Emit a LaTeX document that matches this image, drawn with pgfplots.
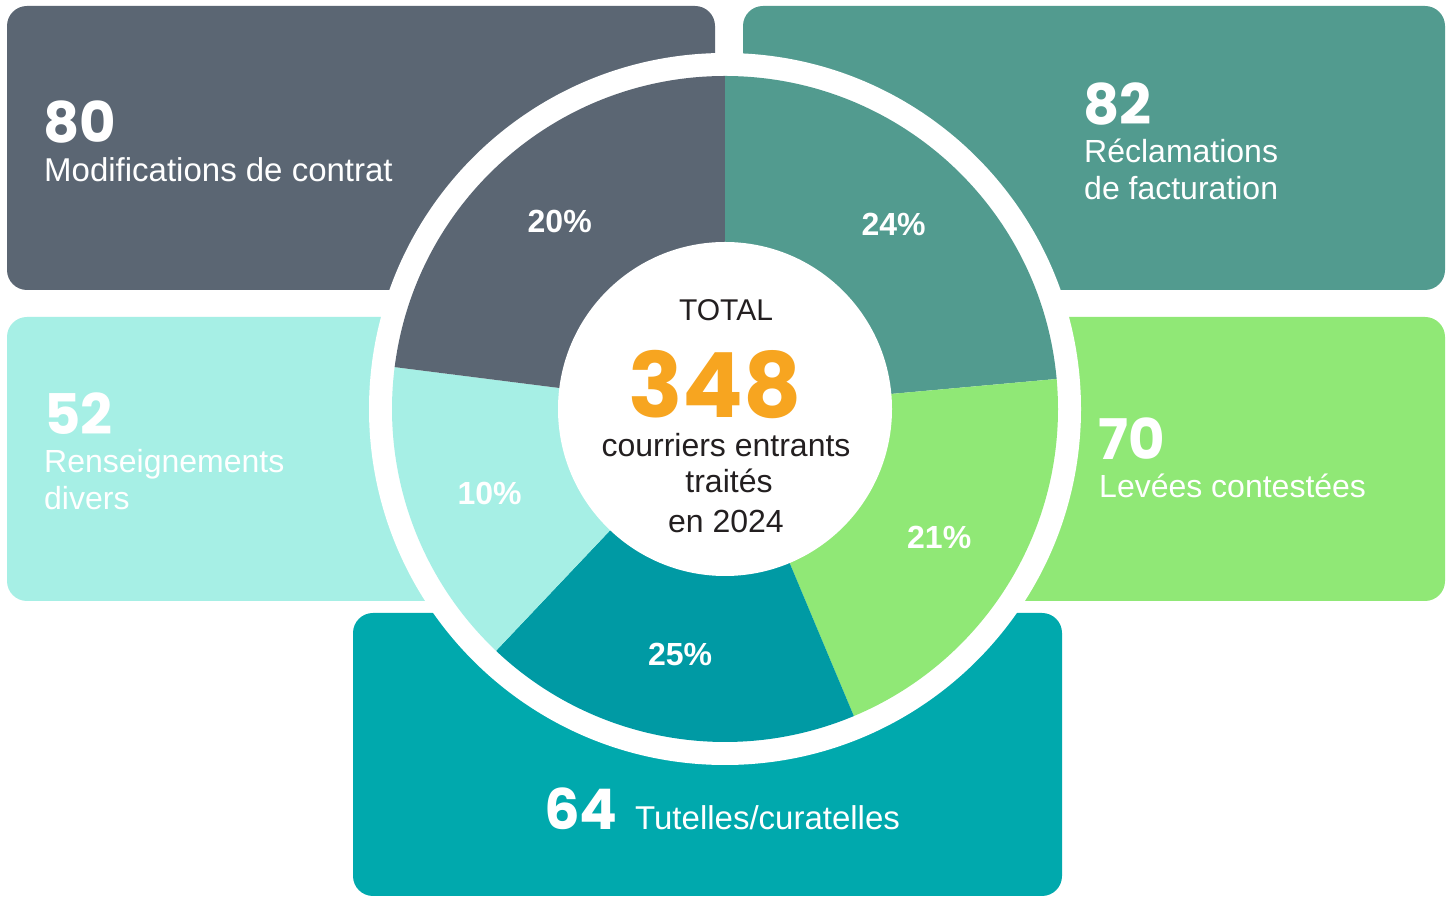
\documentclass[border=0pt]{standalone}
\usepackage{pgfplots}
\pgfplotsset{compat=1.18}
\usepackage{pgfplotstable}
\usepackage{fontspec}
\setmainfont{Liberation Sans}
\newfontfamily\numfont{Poppins}
\definecolor{cModif}{HTML}{5B6673}
\definecolor{cReclam}{HTML}{529B8F}
\definecolor{cLevees}{HTML}{90E876}
\definecolor{cRens}{HTML}{A6EFE5}
\definecolor{cTut}{HTML}{00A9AD}
\definecolor{cTutSlice}{HTML}{009AA4}
\definecolor{cOrange}{HTML}{F7A520}
\definecolor{cDark}{HTML}{231F20}
\newcommand\numf[1]{\numfont\bfseries\fontsize{#1bp}{#1bp}\selectfont}
\newcommand\txtf[1]{\fontsize{#1bp}{#1bp}\selectfont}

\pgfplotstableread{
cat value pct color
Reclamations 82 24 cReclam
Levees 70 21 cLevees
Tutelles 64 25 cTutSlice
Renseignements 52 10 cRens
Modifications 80 20 cModif
}\slices

\pgfmathsetmacro\total{0}%
\pgfplotsforeachungrouped \i in {0,...,4}{%
  \pgfplotstablegetelem{\i}{value}\of{\slices}%
  \pgfmathsetmacro\total{\total+\pgfplotsretval}%
}%
\def\startang{90}%
\pgfplotsforeachungrouped \i in {0,...,4}{%
  \pgfplotstablegetelem{\i}{value}\of{\slices}%
  \pgfmathsetmacro\endang{\startang-\pgfplotsretval/\total*360}%
  \pgfmathsetmacro\midang{(\startang+\endang)/2}%
  \expandafter\xdef\csname sa\i\endcsname{\startang}%
  \expandafter\xdef\csname ea\i\endcsname{\endang}%
  \expandafter\xdef\csname ma\i\endcsname{\midang}%
  \pgfplotstablegetelem{\i}{pct}\of{\slices}%
  \expandafter\xdef\csname pc\i\endcsname{\pgfplotsretval}%
  \pgfplotstablegetelem{\i}{color}\of{\slices}%
  \expandafter\xdef\csname co\i\endcsname{\pgfplotsretval}%
  \global\let\startang\endang
}%

\begin{document}
\begin{tikzpicture}
\begin{axis}[x=1bp, y=1bp, xmin=0, xmax=1448, ymin=0, ymax=897,
  hide axis, clip=false, scale only axis]
\fill[white] (axis cs:0,0) rectangle (axis cs:1448,897);
% boxes
\fill[cModif, rounded corners=20bp] (axis cs:7,607) rectangle (axis cs:715,891);
\fill[cReclam, rounded corners=20bp] (axis cs:743,607) rectangle (axis cs:1445,891);
\fill[cLevees, rounded corners=20bp] (axis cs:760,296) rectangle (axis cs:1445,580);
\fill[cRens, rounded corners=20bp] (axis cs:7,296) rectangle (axis cs:700,580);
\fill[cTut, rounded corners=20bp] (axis cs:353,1) rectangle (axis cs:1062,284);
% white ring
\fill[white] (axis cs:725,488) circle[radius=356bp];
% slices
\pgfplotsinvokeforeach{0,...,4}{
  \fill[\csname co#1\endcsname] (axis cs:725,488) -- +(\csname sa#1\endcsname:333bp)
    arc[start angle=\csname sa#1\endcsname, end angle=\csname ea#1\endcsname, radius=333bp] -- cycle;
}
\fill[white] (axis cs:725,488) circle[radius=167bp];
% percentage labels
\pgfplotsinvokeforeach{0,...,4}{
  \path (axis cs:725,488) ++(\csname ma#1\endcsname:250bp)
    node[inner sep=0, text=white, font=\bfseries\txtf{32}] {\csname pc#1\endcsname\%};
}
% centre text
\node[anchor=base, inner sep=0, text=cDark, font=\txtf{30}] at (axis cs:726,576) {TOTAL};
\node[anchor=base, inner sep=0, text=cOrange, font=\numf{90}] at (axis cs:715,479) {348};
\node[anchor=base, inner sep=0, text=cDark, font=\txtf{32}] at (axis cs:726,440) {courriers entrants};
\node[anchor=base, inner sep=0, text=cDark, font=\txtf{32}] at (axis cs:729,404) {traités};
\node[anchor=base, inner sep=0, text=cDark, font=\txtf{32}] at (axis cs:726,364) {en 2024};
% box texts
\node[anchor=base west, inner sep=0, text=white, font=\numf{56}] at (axis cs:43,754) {80};
\node[anchor=base west, inner sep=0, text=white, font=\txtf{33}] at (axis cs:44,715) {Modifications de contrat};
\node[anchor=base west, inner sep=0, text=white, font=\numf{56}] at (axis cs:1083,772) {82};
\node[anchor=base west, inner sep=0, text=white, font=\txtf{32}] at (axis cs:1084,734) {Réclamations};
\node[anchor=base west, inner sep=0, text=white, font=\txtf{32}] at (axis cs:1084,697) {de facturation};
\node[anchor=base west, inner sep=0, text=white, font=\numf{56}] at (axis cs:44,462) {52};
\node[anchor=base west, inner sep=0, text=white, font=\txtf{32}] at (axis cs:44,424) {Renseignements};
\node[anchor=base west, inner sep=0, text=white, font=\txtf{32}] at (axis cs:44,387) {divers};
\node[anchor=base west, inner sep=0, text=white, font=\numf{56}] at (axis cs:1098,437) {70};
\node[anchor=base west, inner sep=0, text=white, font=\txtf{32}] at (axis cs:1099,399) {Levées contestées};
\node[anchor=base west, inner sep=0, text=white, font=\numf{56}] at (axis cs:544,67) {64};
\node[anchor=base west, inner sep=0, text=white, font=\txtf{33}] at (axis cs:635,67) {Tutelles/curatelles};
\end{axis}
\end{tikzpicture}
\end{document}
